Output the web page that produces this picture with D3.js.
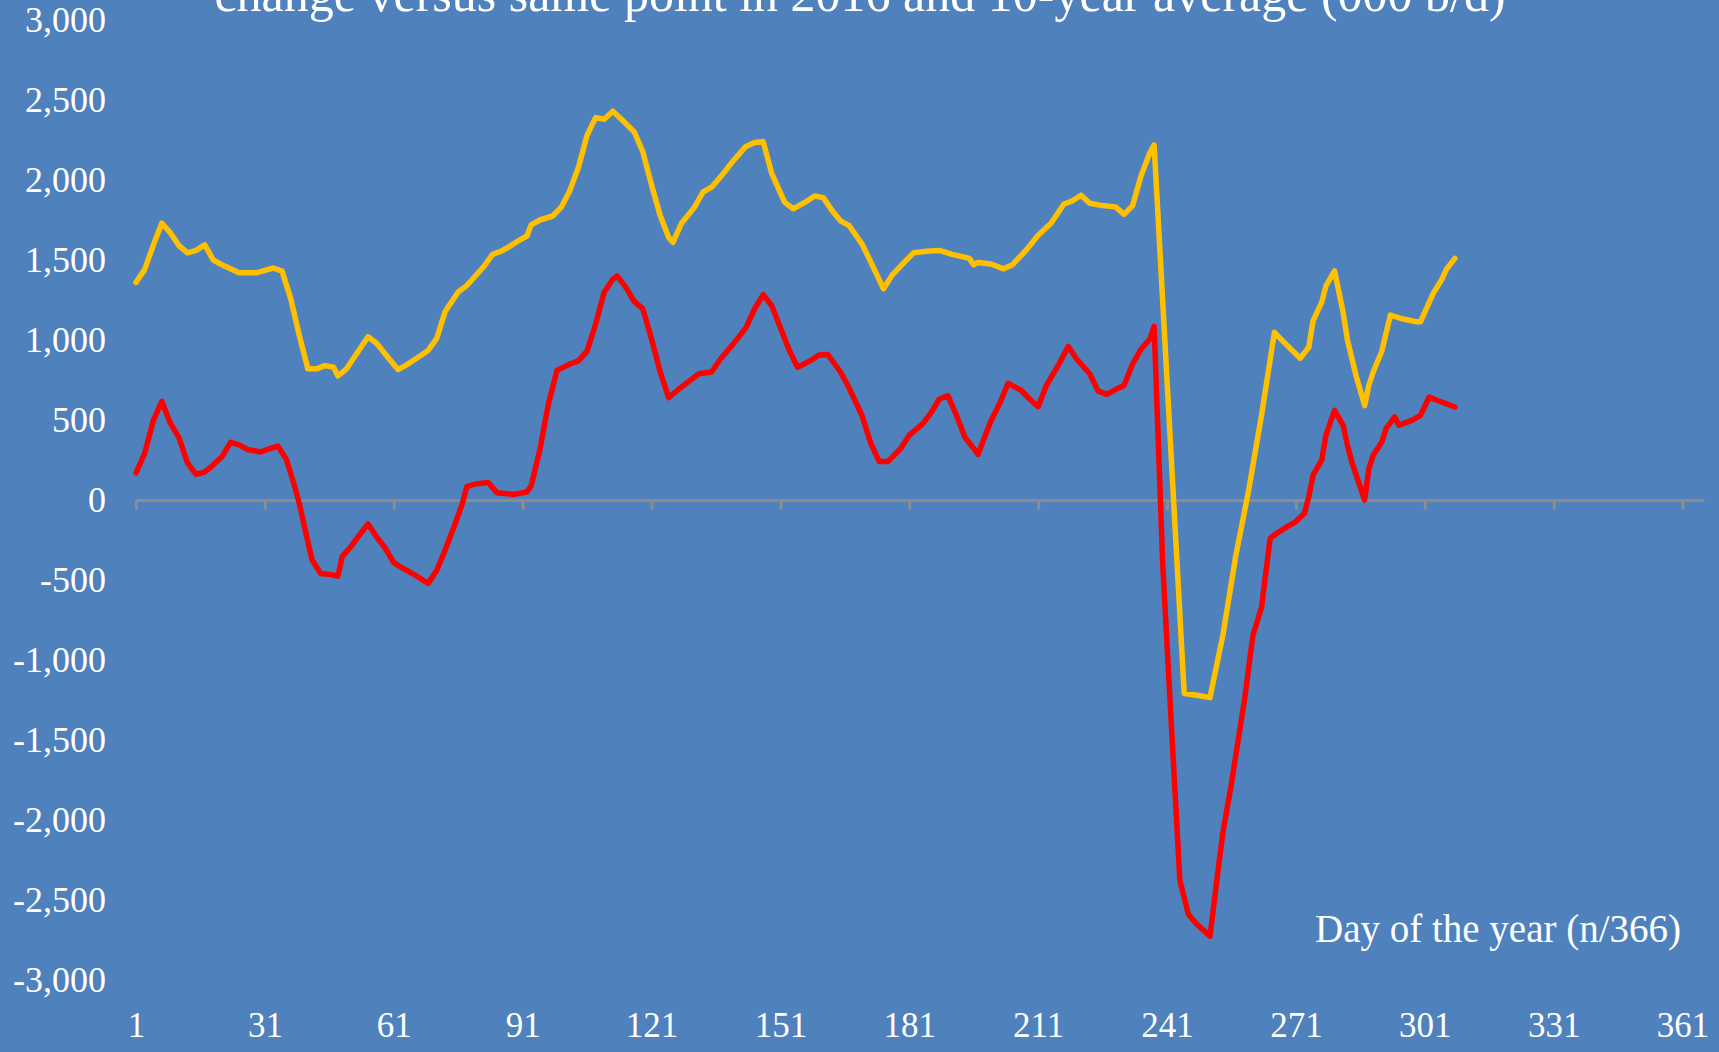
<!DOCTYPE html>
<html>
<head>
<meta charset="utf-8">
<script src="https://cdn.jsdelivr.net/npm/d3@7"></script>
<style>
  html, body { margin: 0; padding: 0; background: #4F81BD; }
  svg { display: block; }
  text { font-family: "Liberation Serif", "Times New Roman", serif; fill: #ffffff; }
</style>
</head>
<body>
<svg id="chart" width="1719" height="1052"></svg>
<script>
// ---- Data ----
const titleText = "change versus same point in 2016 and 10-year average (000 b/d)";
const xAxisTitle = "Day of the year (n/366)";
const xTickValues = [1, 31, 61, 91, 121, 151, 181, 211, 241, 271, 301, 331, 361];
const yTickValues = [-3000, -2500, -2000, -1500, -1000, -500, 0, 500, 1000, 1500, 2000, 2500, 3000];

// Yellow: change versus 10-year average
const avgDays = [1,3,5,7,9,11,13,15,17,19,21,23,25,29,31,33,35,37,39,41,43,45,47,48,50,52,55,57,60,62,64,66,69,71,73,76,78,80,82,84,86,88,90,92,93,95,98,100,102,104,106,108,110,112,114,117,119,121,123,125,126,128,131,133,135,138,140,143,145,147,149,152,154,157,159,161,163,165,167,170,172,175,177,180,182,185,188,191,195,196,197,200,203,205,208,211,214,217,219,221,223,226,229,231,233,235,237,238,245,248,251,254,257,260,263,266,269,271,272,274,275,277,278,280,282,283,285,287,288,289,291,293,296,299,300,303,305,306,308];
const avgValues = [1360,1440,1590,1730,1670,1590,1545,1560,1595,1500,1470,1445,1420,1420,1435,1450,1430,1260,1030,820,820,840,830,775,820,900,1020,980,880,815,845,880,935,1010,1180,1300,1340,1400,1460,1535,1555,1585,1620,1650,1720,1750,1775,1830,1935,2080,2280,2390,2380,2430,2380,2300,2175,1970,1780,1640,1610,1730,1830,1925,1955,2050,2120,2210,2235,2240,2040,1860,1820,1865,1900,1890,1810,1745,1715,1600,1490,1320,1405,1490,1545,1555,1560,1535,1510,1470,1485,1475,1445,1470,1555,1655,1730,1850,1870,1905,1855,1840,1832,1785,1840,2030,2170,2220,-1210,-1220,-1235,-845,-350,60,530,1048,965,913,886,955,1120,1235,1338,1432,1172,1000,778,590,720,800,930,1156,1131,1114,1114,1293,1380,1440,1510];

// Red: change versus same point in 2016
const yoyDays = [1,3,5,7,9,11,13,15,17,19,21,23,25,27,30,32,34,36,38,39,41,42,44,46,48,49,51,53,55,57,59,61,63,66,69,71,73,75,77,78,80,83,85,89,92,93,95,97,99,102,104,106,108,110,112,113,115,117,119,121,123,125,127,130,132,135,137,140,143,145,147,149,151,153,155,158,160,162,165,167,170,172,174,176,179,181,184,186,188,190,192,194,196,197,200,202,204,207,209,211,213,216,218,220,223,225,227,229,231,233,235,237,238,240,242,244,246,248,251,253,254,256,259,261,263,265,267,269,271,273,274,275,277,278,280,282,283,284,287,288,289,291,292,294,295,298,300,302,304,308];
const yoyValues = [170,290,494,617,480,390,230,160,175,220,270,360,345,315,300,320,337,255,80,-21,-260,-375,-460,-465,-475,-354,-292,-220,-150,-230,-300,-391,-425,-470,-521,-440,-310,-170,-20,83,100,110,45,35,50,90,312,600,810,850,870,930,1100,1300,1380,1400,1330,1240,1194,1008,803,640,686,748,789,800,880,974,1077,1194,1283,1214,1077,940,830,871,906,910,800,700,528,357,240,240,322,405,473,542,631,652,528,391,322,285,494,600,729,686,631,583,720,857,960,880,789,680,660,690,716,851,944,1006,1085,-400,-1400,-2380,-2590,-2653,-2726,-2290,-2080,-1770,-1255,-845,-672,-240,-200,-166,-135,-83,21,156,249,405,560,467,342,239,0,197,280,363,446,519,467,498,529,643,622,581];

// ---- Drawing ----
const W = 1719, H = 1052;
const svg = d3.select("#chart");
svg.append("rect").attr("width", W).attr("height", H).attr("fill", "#4F81BD");

const x = d3.scaleLinear().domain([1, 366]).range([136, 1704]);
const y = d3.scaleLinear().domain([-3000, 3000]).range([980, 20]);

const locale = d3.formatLocale({decimal: ".", thousands: ",", grouping: [3], currency: ["$", ""], minus: "-"});
const fmt = locale.format(",");

// zero axis line with ticks
const zeroAxis = svg.append("g")
  .attr("transform", `translate(0,${y(0)})`)
  .call(d3.axisBottom(x).tickValues(xTickValues).tickSize(10).tickSizeOuter(0).tickFormat(""));
zeroAxis.selectAll("path, line").attr("stroke", "#8C8C8C").attr("stroke-width", 3);
zeroAxis.selectAll("text").remove();

// x labels at bottom
const xLab = svg.append("g")
  .attr("transform", "translate(0,1012)")
  .call(d3.axisBottom(x).tickValues(xTickValues).tickSize(0).tickPadding(0).tickFormat(d3.format("d")));
xLab.select(".domain").remove();
xLab.selectAll("text").attr("font-size", 35).attr("font-family", "Liberation Serif").attr("fill", "#fff");

// y labels
const yLab = svg.append("g")
  .attr("transform", "translate(106,0)")
  .call(d3.axisLeft(y).tickValues(yTickValues).tickSize(0).tickPadding(0).tickFormat(fmt));
yLab.select(".domain").remove();
yLab.selectAll("text").attr("font-size", 36).attr("font-family", "Liberation Serif").attr("fill", "#fff");

// lines
const line = d3.line().x(d => x(d[0])).y(d => y(d[1]));
svg.append("path")
  .datum(avgDays.map((d, i) => [d, avgValues[i]]))
  .attr("d", line).attr("fill", "none").attr("stroke", "#FFC000")
  .attr("stroke-width", 5.5).attr("stroke-linejoin", "round").attr("stroke-linecap", "round");
svg.append("path")
  .datum(yoyDays.map((d, i) => [d, yoyValues[i]]))
  .attr("d", line).attr("fill", "none").attr("stroke", "#FF0000")
  .attr("stroke-width", 5.5).attr("stroke-linejoin", "round").attr("stroke-linecap", "round");

// title (cropped at top, as in the reference)
svg.append("text").attr("x", 860).attr("y", 11).attr("text-anchor", "middle")
  .attr("font-size", 50).text(titleText);

// x axis title
svg.append("text").attr("x", 1681).attr("y", 942).attr("text-anchor", "end")
  .attr("font-size", 39).text(xAxisTitle);
</script>
</body>
</html>
